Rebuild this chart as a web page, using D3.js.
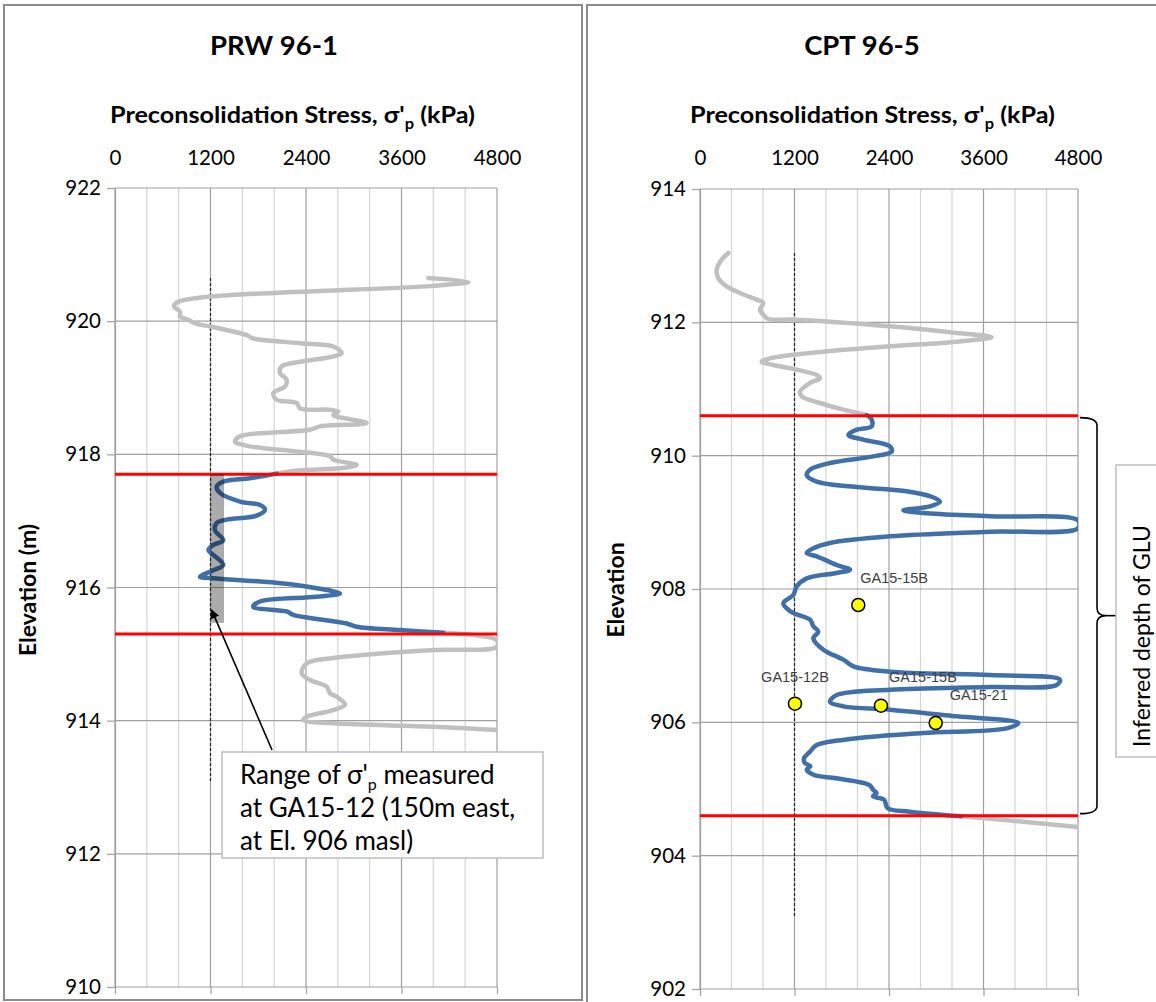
<!DOCTYPE html>
<html>
<head>
<meta charset="utf-8">
<script src="https://cdn.jsdelivr.net/npm/d3@7"></script>
<style>
  html, body { margin: 0; padding: 0; background: #fff; }
  svg { display: block; }
</style>
</head>
<body>
<svg id="chart" width="1156" height="1002"></svg>
<script>
// ---------------- DATA ----------------
const xTickValues = [0, 1200, 2400, 3600, 4800];
const prwElevTicks = [910, 912, 914, 916, 918, 920, 922];
const cptElevTicks = [902, 904, 906, 908, 910, 912, 914];

// PRW 96-1 : [stress kPa, elevation m]
const prwUpperGray = [[3937,920.65],[4440,920.59],[3996,920.53],[2325,920.44],[1194,920.37],[775,920.28],[741,920.22],[817,920.14],[817,920.07],[921,920.02],[1026,919.96],[1194,919.92],[1655,919.79],[1738,919.74],[2325,919.67],[2743,919.62],[2848,919.52],[2743,919.47],[2325,919.39],[2094,919.32],[2073,919.22],[2157,919.12],[2136,919.02],[1989,918.92],[2031,918.82],[2283,918.77],[2325,918.69],[2702,918.67],[2806,918.64],[2743,918.59],[3162,918.47],[2576,918.42],[2450,918.37],[1571,918.27],[1508,918.19],[1696,918.12],[2325,918.04],[2702,917.97],[2743,917.92],[3037,917.84],[2827,917.79],[2325,917.76],[2031,917.71]];
const prwBlue = [[2031,917.71],[1696,917.64],[1361,917.59],[1277,917.51],[1319,917.42],[1571,917.29],[1822,917.24],[1885,917.17],[1780,917.08],[1403,917.02],[1277,916.97],[1256,916.86],[1361,916.71],[1235,916.64],[1173,916.56],[1235,916.49],[1361,916.34],[1235,916.26],[1068,916.16],[1235,916.14],[2115,916.06],[2534,915.99],[2827,915.91],[2534,915.86],[1822,915.79],[1738,915.71],[2157,915.64],[2240,915.59],[2911,915.46],[3037,915.41],[3581,915.36],[4125,915.32]];
const prwLowerGray = [[4125,915.32],[4796,915.21],[4796,915.11],[4000,915.06],[2743,914.94],[2409,914.86],[2346,914.71],[2450,914.61],[2660,914.51],[2702,914.41],[2785,914.36],[2890,914.24],[2743,914.16],[2409,914.06],[2367,914.01],[2743,913.96],[4000,913.91],[4796,913.86]];
const prwRedElevs = [917.7, 915.3];
const prwDashed = [[1200, 920.65], [1200, 913.08]];
const prwRange = [[1200, 917.7], [1370, 915.47]];
const prwArrow = [[1973, 913.56], [1215, 915.66]];
const prwNoteLines = ["Range of σ'", "at GA15-12 (150m east,", "at El. 906 masl)"];

// CPT 96-5
const cptUpperGray = [[360,913.04],[275,912.94],[212,912.79],[233,912.66],[339,912.54],[508,912.44],[720,912.34],[804,912.29],[762,912.19],[804,912.11],[868,912.05],[1228,912.04],[2413,911.94],[3260,911.84],[3704,911.78],[3260,911.71],[2413,911.64],[1566,911.56],[889,911.46],[783,911.41],[931,911.36],[1228,911.29],[1482,911.21],[1524,911.16],[1397,911.09],[1270,910.96],[1291,910.89],[1524,910.79],[1820,910.69],[2117,910.61]];
const cptBlue = [[2117,910.61],[2180,910.54],[2180,910.44],[1990,910.39],[1884,910.31],[2074,910.24],[2413,910.14],[2434,910.06],[2201,909.99],[1651,909.89],[1397,909.79],[1355,909.71],[1482,909.61],[1990,909.53],[2600,909.47],[2950,909.38],[3048,909.31],[2921,909.24],[2582,909.18],[2836,909.14],[3683,909.09],[4800,909.03],[4800,908.91],[3683,908.86],[2413,908.79],[1651,908.69],[1439,908.61],[1355,908.54],[1482,908.49],[1736,908.36],[1905,908.29],[1736,908.24],[1355,908.16],[1228,908.04],[1185,907.91],[1058,907.79],[1101,907.71],[1185,907.64],[1397,907.54],[1439,907.44],[1502,907.36],[1439,907.26],[1566,907.09],[1820,906.94],[1947,906.84],[2413,906.76],[3683,906.71],[4571,906.64],[4529,906.56],[3683,906.53],[2413,906.49],[1736,906.41],[1651,906.31],[1820,906.24],[2413,906.19],[3260,906.09],[4042,905.99],[3895,905.91],[2836,905.84],[1990,905.76],[1482,905.66],[1397,905.56],[1320,905.46],[1332,905.39],[1402,905.34],[1355,905.29],[1449,905.21],[1729,905.16],[2150,905.06],[2197,904.99],[2243,904.94],[2197,904.89],[2337,904.84],[2384,904.71],[2664,904.66],[3318,904.59]];
const cptLowerGray = [[3318,904.59],[4000,904.52],[4800,904.43]];
const cptRedElevs = [910.6, 904.6];
const cptDashed = [[1200, 913.04], [1200, 903.07]];
const sampleNames = ["GA15-15B", "GA15-12B", "GA15-15B", "GA15-21"];
const sampleStress = [2010, 1206, 2298, 2993];
const sampleElev = [907.76, 906.28, 906.25, 905.99];
const gluNote = "Inferred depth of GLU";

// ---------------- DRAWING ----------------
const FONT = "Lato, 'Liberation Sans', sans-serif";
const svg = d3.select("#chart");

// panel frames
svg.append("rect").attr("x", 4).attr("y", 5).attr("width", 578).attr("height", 995)
  .attr("fill", "#fff").attr("stroke", "#8c8c8c").attr("stroke-width", 2);
svg.append("rect").attr("x", 587).attr("y", 5).attr("width", 580).attr("height", 1010)
  .attr("fill", "#fff").attr("stroke", "#8c8c8c").attr("stroke-width", 2);

function panel(cfg) {
  const x = d3.scaleLinear().domain([0, 4800]).range([cfg.left, cfg.right]);
  const y = d3.scaleLinear().domain(cfg.elevDomain).range([cfg.bottom, cfg.top]);
  const g = svg.append("g");

  // titles
  g.append("text").attr("x", cfg.titleX).attr("y", 55).attr("text-anchor", "middle")
    .attr("font-family", FONT).attr("font-weight", "bold").attr("font-size", 27.5)
    .attr("fill", "#000").text(cfg.title);
  const at = g.append("text").attr("x", cfg.axTitleX).attr("y", 123)
    .attr("font-family", FONT).attr("font-weight", "bold")
    .attr("font-size", 23).attr("fill", "#000")
    .attr("textLength", 365).attr("lengthAdjust", "spacingAndGlyphs");
  at.append("tspan").text("Preconsolidation Stress, σ'");
  at.append("tspan").attr("font-size", 15).attr("dy", 6).text("p");
  at.append("tspan").attr("dy", -6).text(" (kPa)");

  // vertical grid
  const vgrid = d3.range(0, 4801, 400);
  g.append("g").selectAll("line").data(vgrid).join("line")
    .attr("x1", d => x(d)).attr("x2", d => x(d))
    .attr("y1", cfg.top).attr("y2", cfg.bottom)
    .attr("stroke", d => d % 1200 === 0 ? "#a0a0a0" : "#d4d4d4").attr("stroke-width", 1.2);

  // left axis with gridlines
  const yAxis = d3.axisLeft(y).tickValues(cfg.elevTicks).tickSize(8).tickPadding(6).tickFormat(d3.format("d"));
  const ya = g.append("g").attr("transform", `translate(${cfg.left},0)`).call(yAxis);
  ya.select(".domain").attr("stroke", "#a0a0a0").attr("stroke-width", 1.2);
  ya.selectAll(".tick line").attr("stroke", "#a0a0a0").attr("stroke-width", 1.2);
  ya.selectAll(".tick text").attr("font-family", FONT).attr("font-size", 20.5).attr("fill", "#000");
  g.append("g").selectAll("line").data(cfg.elevTicks).join("line")
    .attr("x1", cfg.left).attr("x2", cfg.right).attr("y1", d => y(d)).attr("y2", d => y(d))
    .attr("stroke", "#a0a0a0").attr("stroke-width", 1.2);

  // top tick labels
  const xAxisTop = d3.axisTop(x).tickValues(xTickValues).tickSize(0).tickPadding(0).tickFormat(d3.format("d"));
  const xa = g.append("g").attr("transform", `translate(0,165)`).call(xAxisTop);
  xa.select(".domain").remove();
  xa.selectAll(".tick text").attr("font-family", FONT).attr("font-size", 20.5).attr("fill", "#000");

  // bottom ticks
  const xAxisBot = d3.axisBottom(x).tickValues(xTickValues).tickSize(7).tickFormat("");
  const xb = g.append("g").attr("transform", `translate(0,${cfg.bottom})`).call(xAxisBot);
  xb.select(".domain").remove();
  xb.selectAll(".tick line").attr("stroke", "#a0a0a0").attr("stroke-width", 1.2);

  // y axis title
  g.append("text").attr("transform", `translate(${cfg.yTitleX},590) rotate(-90)`)
    .attr("text-anchor", "middle").attr("font-family", FONT).attr("font-weight", "bold")
    .attr("font-size", 23).attr("fill", "#000").text(cfg.yTitle);

  // dashed reference line
  g.append("line").attr("x1", x(cfg.dashed[0][0])).attr("x2", x(cfg.dashed[1][0]))
    .attr("y1", y(cfg.dashed[0][1])).attr("y2", y(cfg.dashed[1][1]))
    .attr("stroke", "#222").attr("stroke-width", 1.2).attr("stroke-dasharray", "3,2");

  const line = d3.line().x(d => x(d[0])).y(d => y(d[1])).curve(d3.curveCatmullRom.alpha(0.5));
  const clipId = "clip" + cfg.title.replace(/\W/g, "");
  svg.append("clipPath").attr("id", clipId).append("rect")
    .attr("x", cfg.left - 5).attr("y", cfg.top).attr("width", cfg.right - cfg.left + 5).attr("height", cfg.bottom - cfg.top);
  const curves = g.append("g").attr("clip-path", `url(#${clipId})`);
  [cfg.upperGray, cfg.lowerGray].forEach(dat => {
    curves.append("path").attr("d", line(dat)).attr("fill", "none")
      .attr("stroke", "#c0c0c0").attr("stroke-width", 4.5)
      .attr("stroke-linejoin", "round").attr("stroke-linecap", "round");
  });
  curves.append("path").attr("d", line(cfg.blue)).attr("fill", "none")
    .attr("stroke", "#4170a8").attr("stroke-width", 4.5)
    .attr("stroke-linejoin", "round").attr("stroke-linecap", "round");

  // red boundaries
  g.append("g").selectAll("line").data(cfg.red).join("line")
    .attr("x1", cfg.left).attr("x2", cfg.right).attr("y1", d => y(d)).attr("y2", d => y(d))
    .attr("stroke", "#ff0000").attr("stroke-width", 3);

  return { x, y, g };
}

// ---- Left panel
const L = panel({
  title: "PRW 96-1", titleX: 274, axTitleX: 110, left: 115, right: 497, top: 188, bottom: 987,
  elevDomain: [910, 922], elevTicks: prwElevTicks, yTitle: "Elevation (m)", yTitleX: 36,
  upperGray: prwUpperGray, blue: prwBlue, lowerGray: prwLowerGray, red: prwRedElevs, dashed: prwDashed
});

// measured range bar
L.g.append("rect")
  .attr("x", L.x(prwRange[0][0])).attr("y", L.y(prwRange[0][1]))
  .attr("width", L.x(prwRange[1][0]) - L.x(prwRange[0][0]))
  .attr("height", L.y(prwRange[1][1]) - L.y(prwRange[0][1]))
  .attr("fill", "#000").attr("fill-opacity", 0.33);

// arrow
svg.append("defs").append("marker").attr("id", "arrowhead").attr("viewBox", "0 0 10 10")
  .attr("refX", 9).attr("refY", 5).attr("markerWidth", 9).attr("markerHeight", 9)
  .attr("markerUnits", "userSpaceOnUse").attr("orient", "auto")
  .append("path").attr("d", "M0,0 L10,5 L0,10 z").attr("fill", "#000");
L.g.append("line")
  .attr("x1", L.x(prwArrow[0][0])).attr("y1", L.y(prwArrow[0][1]))
  .attr("x2", L.x(prwArrow[1][0])).attr("y2", L.y(prwArrow[1][1]))
  .attr("stroke", "#000").attr("stroke-width", 1.6).attr("marker-end", "url(#arrowhead)");

// note box
L.g.append("rect").attr("x", 222).attr("y", 752).attr("width", 321).attr("height", 106)
  .attr("fill", "#fff").attr("stroke", "#bfbfbf").attr("stroke-width", 1.5);
const n1 = L.g.append("text").attr("x", 240).attr("y", 784).attr("font-family", FONT)
  .attr("font-size", 26).attr("fill", "#000");
n1.append("tspan").text(prwNoteLines[0]);
n1.append("tspan").attr("font-size", 16).attr("dy", 6).text("p");
n1.append("tspan").attr("dy", -6).text(" measured");
L.g.append("text").attr("x", 240).attr("y", 817).attr("font-family", FONT)
  .attr("font-size", 26).attr("fill", "#000").text(prwNoteLines[1]);
L.g.append("text").attr("x", 240).attr("y", 850).attr("font-family", FONT)
  .attr("font-size", 26).attr("fill", "#000").text(prwNoteLines[2]);

// ---- Right panel
const R = panel({
  title: "CPT 96-5", titleX: 862, axTitleX: 690, left: 700, right: 1078, top: 189, bottom: 989,
  elevDomain: [902, 914], elevTicks: cptElevTicks, yTitle: "Elevation", yTitleX: 624,
  upperGray: cptUpperGray, blue: cptBlue, lowerGray: cptLowerGray, red: cptRedElevs, dashed: cptDashed
});

const samples = sampleNames.map((n, i) => ({ name: n, s: sampleStress[i], e: sampleElev[i] }));
const labelOffsets = [[2, -27, "start"], [0, -27, "middle"], [42, -29, "middle"], [43, -28, "middle"]];
R.g.append("g").selectAll("circle").data(samples).join("circle")
  .attr("cx", d => R.x(d.s)).attr("cy", d => R.y(d.e)).attr("r", 6.5)
  .attr("fill", "#ffff00").attr("stroke", "#000").attr("stroke-width", 1.5);
R.g.append("g").selectAll("text").data(samples).join("text")
  .attr("x", (d, i) => R.x(d.s) + labelOffsets[i][0])
  .attr("y", (d, i) => R.y(d.e) + labelOffsets[i][1] + 5)
  .attr("text-anchor", (d, i) => labelOffsets[i][2])
  .attr("font-family", "'Liberation Sans', Arial, sans-serif").attr("font-size", 14.5)
  .attr("fill", "#404040").text(d => d.name);

// brace
const bTop = R.y(cptRedElevs[0]) + 2, bBot = R.y(cptRedElevs[1]) - 2, bMid = (bTop + bBot) / 2;
const x0 = 1080, x1 = 1097, x2 = 1106, r = 8;
R.g.append("path")
  .attr("d", `M${x0},${bTop} Q${x1},${bTop} ${x1},${bTop + r} L${x1},${bMid - r} Q${x1},${bMid} ${x2},${bMid} Q${x1},${bMid} ${x1},${bMid + r} L${x1},${bBot - r} Q${x1},${bBot} ${x0},${bBot}`)
  .attr("fill", "none").attr("stroke", "#000").attr("stroke-width", 1.6);
R.g.append("line").attr("x1", x2).attr("x2", 1116).attr("y1", bMid).attr("y2", bMid)
  .attr("stroke", "#000").attr("stroke-width", 1.6);

// GLU note box
R.g.append("rect").attr("x", 1116).attr("y", 465).attr("width", 60).attr("height", 292)
  .attr("fill", "#fff").attr("stroke", "#bfbfbf").attr("stroke-width", 1.5);
R.g.append("text").attr("transform", "translate(1150,636) rotate(-90)")
  .attr("text-anchor", "middle").attr("font-family", FONT).attr("font-size", 23)
  .attr("fill", "#000").text(gluNote);
</script>
</body>
</html>
